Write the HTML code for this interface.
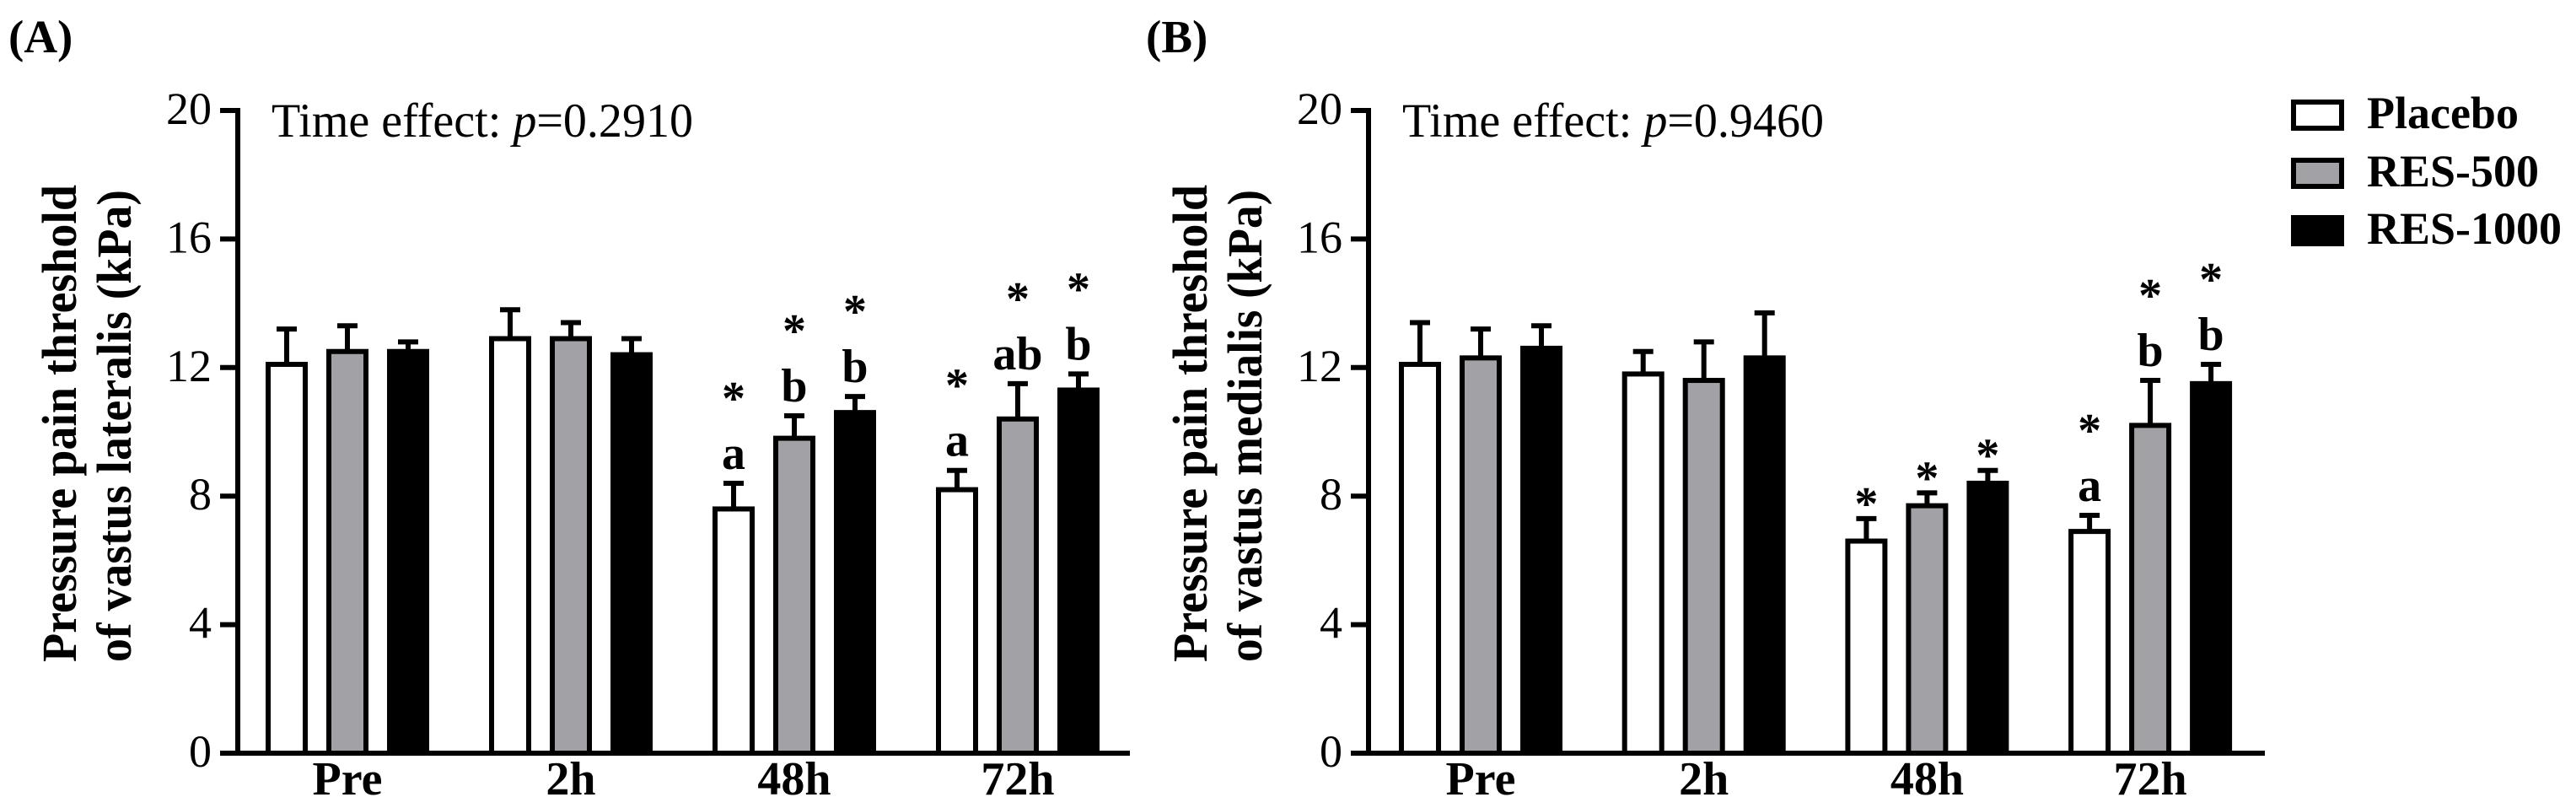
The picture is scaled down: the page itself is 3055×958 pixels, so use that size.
<!DOCTYPE html>
<html><head><meta charset="utf-8"><style>
html,body{margin:0;padding:0;background:#fff;}
svg{display:block;font-family:"Liberation Serif","DejaVu Serif",serif;}
svg text{font-family:"Liberation Serif","DejaVu Serif",serif;fill:#000;}
</style></head><body>
<svg id="chart" width="3055" height="958" viewBox="0 0 3055 958" xmlns="http://www.w3.org/2000/svg" font-family="Liberation Serif, DejaVu Serif, serif"></svg>
<script>
const categories = ["Pre","2h","48h","72h"];
const seriesNames = ["Placebo","RES-500","RES-1000"];
const yTicks = [0,4,8,12,16,20];
// Panel A: vastus lateralis
const aPlacebo = [12.1,12.9,7.6,8.2];
const aPlaceboErr = [13.2,13.8,8.4,8.8];
const aRes500 = [12.5,12.9,9.8,10.4];
const aRes500Err = [13.3,13.4,10.5,11.5];
const aRes1000 = [12.5,12.4,10.6,11.3];
const aRes1000Err = [12.8,12.9,11.1,11.8];
const aLettersP = ["","","a","a"];
const aLetters = [["","","",""],["","","b","ab"],["","","b","b"]];
const aStars = [[0,0,1,1],[0,0,1,1],[0,0,1,1]];
// Panel B: vastus medialis
const bPlacebo = [12.1,11.8,6.6,6.9];
const bPlaceboErr = [13.4,12.5,7.3,7.4];
const bRes500 = [12.3,11.6,7.7,10.2];
const bRes500Err = [13.2,12.8,8.1,11.6];
const bRes1000 = [12.6,12.3,8.4,11.5];
const bRes1000Err = [13.3,13.7,8.8,12.1];
const bLettersP = ["","","","a"];
const bLetters = [["","","",""],["","","","b"],["","","","b"]];
const bStars = [[0,0,1,1],[0,0,1,1],[0,0,1,1]];

const NS="http://www.w3.org/2000/svg";
const FF="Liberation Serif, DejaVu Serif, serif";
const svg=document.getElementById('chart');
function el(tag,attrs,parent){const e=document.createElementNS(NS,tag);for(const k in attrs)e.setAttribute(k,attrs[k]);if(tag==='text')e.setAttribute('font-family',FF);(parent||svg).appendChild(e);return e;}
const fills=["#ffffff","#a2a2a6","#000000"];
const y0=893, y20=131;
function yScale(v){return y0-(y0-y20)*v/20;}

function panel(o){
  const g=el('g',{});
  
  
  const xs=i=>o.start+i*o.step;
  for(let s=0;s<3;s++){
    for(let i=0;i<categories.length;i++){
      const x=xs(i)+s*72, top=yScale(o.vals[s][i]), et=yScale(o.errs[s][i]);
      const eb=el('line',{x1:x+25,x2:x+25,y1:top,y2:et,stroke:'#000','stroke-width':6},g);
      
      
      const cap=el('line',{x1:x+13,x2:x+37,y1:et,y2:et,stroke:'#000','stroke-width':6},g);
      
      
      const r=el('rect',{x:x+3,y:top,width:44,height:y0-top,fill:fills[s],stroke:'#000','stroke-width':6},g);
      
      
      const letter = s===0?o.lp[i]:o.letters[s][i];
      let base=et-17;
      if(letter){
        const t=el('text',{x:x+25,y:base,'font-size':56,'font-weight':'bold','text-anchor':'middle'},g);
        t.textContent=letter;
        
        
        base=base-83;
      }
      if(o.stars[s][i]){
        const t=el('text',{x:x+25,y:base+18,'font-size':56,'font-weight':'bold','text-anchor':'middle'},g);
        t.textContent='*';
        
        
      }
    }
  }
  const ya=el('line',{x1:o.ax,x2:o.ax,y1:y20-3,y2:y0+3,stroke:'#000','stroke-width':6},g);
  
  
  const xa=el('line',{x1:o.ax-21,x2:o.xend,y1:y0,y2:y0,stroke:'#000','stroke-width':6},g);
  
  
  yTicks.forEach(v=>{
    const y=yScale(v);
    const tk=el('line',{x1:o.ax-21,x2:o.ax,y1:y,y2:y,stroke:'#000','stroke-width':6},g);
    
    
    const t=el('text',{x:o.ax-31,y:y+16,'font-size':54,'text-anchor':'end'},g);
    t.textContent=v;
    
    
  });
  categories.forEach((c,i)=>{
    const t=el('text',{x:xs(i)+97,y:942,'font-size':56,'font-weight':'bold','text-anchor':'middle'},g);
    t.textContent=c;
    
    
  });
  const t1=el('text',{transform:`translate(${o.ax-192},502) rotate(-90)`,'font-size':58,'font-weight':'bold','text-anchor':'middle',textLength:566,lengthAdjust:'spacingAndGlyphs'},g);
  t1.textContent='Pressure pain threshold';
  
  
  const t2=el('text',{transform:`translate(${o.ax-127},505) rotate(-90)`,'font-size':58,'font-weight':'bold','text-anchor':'middle',textLength:560,lengthAdjust:'spacingAndGlyphs'},g);
  t2.textContent=o.title2;
  
  
  const te=el('text',{x:o.ax+40,y:162,'font-size':57,textLength:500,lengthAdjust:'spacingAndGlyphs'},g);
  const ts1=el('tspan',{},te); ts1.textContent='Time effect: ';
  const ts2=el('tspan',{'font-style':'italic'},te); ts2.textContent='p';
  const ts3=el('tspan',{},te); ts3.textContent='='+o.p;
  
  
  const pl=el('text',{x:o.lx,y:62,'font-size':55,'font-weight':'bold'},g);
  pl.textContent=o.label;
  
  
}

panel({name:'panel-a',start:315,step:265,ax:282,xend:1340,vals:[aPlacebo,aRes500,aRes1000],errs:[aPlaceboErr,aRes500Err,aRes1000Err],lp:aLettersP,letters:aLetters,stars:aStars,title2:'of vastus lateralis (kPa)',p:'0.2910',label:'(A)',lx:10});
panel({name:'panel-b',start:1659,step:264.7,ax:1623,xend:2686,vals:[bPlacebo,bRes500,bRes1000],errs:[bPlaceboErr,bRes500Err,bRes1000Err],lp:bLettersP,letters:bLetters,stars:bStars,title2:'of vastus medialis (kPa)',p:'0.9460',label:'(B)',lx:1359});

const lg=el('g',{});


const lys=[118,187,255];
seriesNames.forEach((n,i)=>{
  const r=el('rect',{x:2720,y:lys[i]+3,width:57,height:31,fill:fills[i],stroke:'#000','stroke-width':6},lg);
  
  
  const t=el('text',{x:2807,y:lys[i]+34,'font-size':54,'font-weight':'bold'},lg);
  t.textContent=n;
  
  
});
</script>
</body></html>
